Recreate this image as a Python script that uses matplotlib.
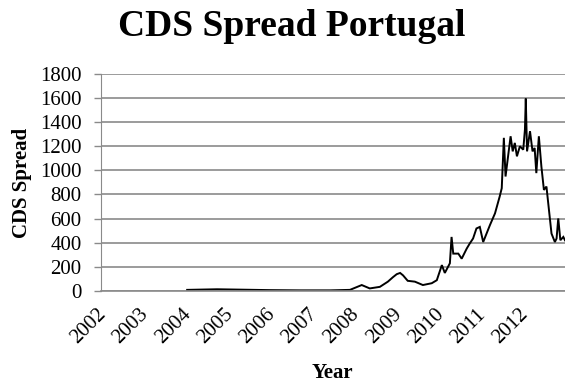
import matplotlib.pyplot as plt
import matplotlib.transforms as mtransforms

# CDS spread series (basis points), x given in fractional years
dates = [2004.04, 2004.75, 2005.29, 2006.00, 2006.72, 2007.43, 2007.90, 2008.18,
         2008.37, 2008.61, 2008.80, 2008.92, 2009.01, 2009.09, 2009.16, 2009.27,
         2009.44, 2009.63, 2009.84, 2009.96, 2010.08, 2010.15, 2010.27, 2010.31,
         2010.35, 2010.47, 2010.55, 2010.67, 2010.74, 2010.82, 2010.90, 2010.98,
         2011.06, 2011.14, 2011.22, 2011.34, 2011.45, 2011.50, 2011.55, 2011.59,
         2011.65, 2011.71, 2011.76, 2011.81, 2011.86, 2011.93, 2012.01, 2012.05,
         2012.07, 2012.10, 2012.17, 2012.23, 2012.28, 2012.32, 2012.38, 2012.44,
         2012.50, 2012.56, 2012.62, 2012.68, 2012.76, 2012.80, 2012.84, 2012.89,
         2012.96, 2013.00]
spread = [10, 15, 12, 8, 6, 6, 10, 50,
          22, 35, 78, 115, 140, 150, 130, 85,
          78, 50, 65, 90, 215, 150, 230, 448,
          310, 310, 268, 352, 393, 435, 518, 531,
          406, 476, 546, 643, 781, 851, 1268, 948,
          1115, 1281, 1156, 1226, 1115, 1198, 1170, 1337,
          1593, 1156, 1323, 1156, 1184, 976, 1281, 1031,
          837, 865, 670, 476, 406, 435, 601, 421,
          448, 420]

years = list(range(2002, 2013))
yticks = list(range(0, 1801, 200))

plt.rcParams['font.family'] = ['Liberation Serif', 'DejaVu Serif']

fig = plt.figure(figsize=(5.65, 3.83), dpi=100)
ax = fig.add_axes([0.179, 0.240, 0.821, 0.568])

ax.plot(dates, spread, color='black', linewidth=1.4, solid_joinstyle='miter')

ax.set_xlim(2002, 2013)
ax.set_ylim(0, 1800)
ax.set_yticks(yticks)
ax.set_xticks(years)
ax.set_xticklabels([str(y) for y in years], rotation=45, ha='right', va='top',
                   rotation_mode='anchor')
ax.tick_params(axis='y', length=5, width=1, color='#8a8a8a', pad=9, labelsize=15)
ax.tick_params(axis='x', length=0, pad=10, labelsize=15)

# nudge the slanted year labels a little to the left
shift = mtransforms.ScaledTranslation(-3 / 72, 0, fig.dpi_scale_trans)
for lbl in ax.get_xticklabels():
    lbl.set_transform(lbl.get_transform() + shift)

ax.grid(axis='y', color='#8a8a8a', linewidth=1.2)
ax.set_axisbelow(True)
for side in ['top', 'right']:
    ax.spines[side].set_visible(False)
ax.spines['left'].set_color('#8a8a8a')
ax.spines['bottom'].set_color('#8a8a8a')
ax.spines['bottom'].set_linewidth(1.2)

fig.text(0.517, 0.932, 'CDS Spread Portugal', ha='center', va='center',
         fontsize=27, fontweight='bold')
fig.text(0.039, 0.522, 'CDS Spread', ha='center', va='center', rotation=90,
         fontsize=15, fontweight='bold')
fig.text(0.588, 0.026, 'Year', ha='center', va='center', fontsize=15, fontweight='bold')

fig.savefig('out.png', dpi=100)
